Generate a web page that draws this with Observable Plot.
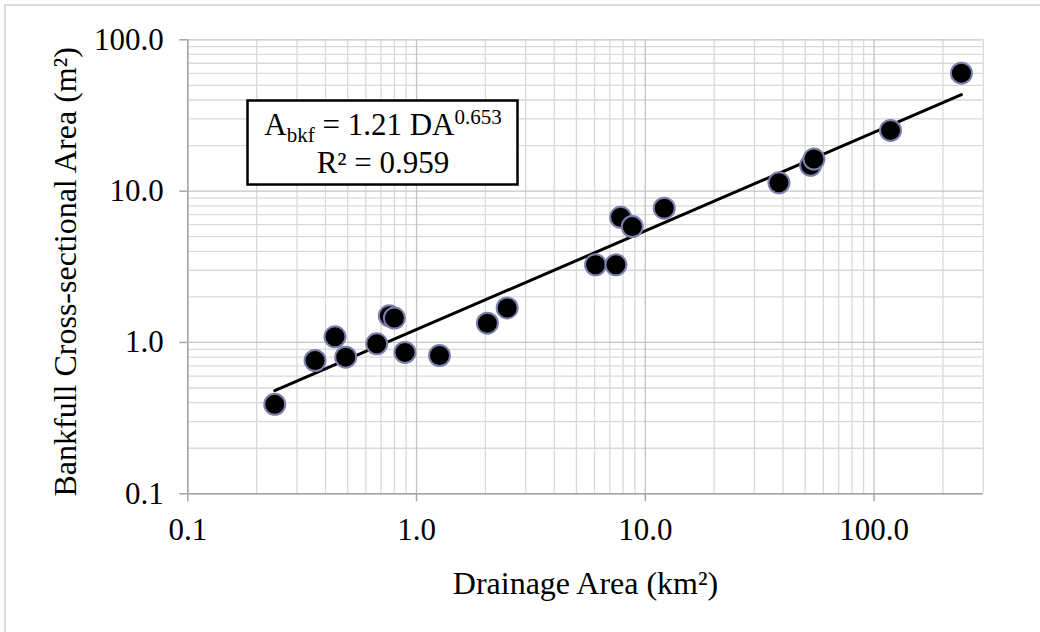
<!DOCTYPE html>
<html>
<head>
<meta charset="utf-8">
<script src="https://cdn.jsdelivr.net/npm/d3@7"></script>
<script src="https://cdn.jsdelivr.net/npm/@observablehq/plot@0.6"></script>
<style>
  html, body { margin: 0; padding: 0; background: #fff; }
  #chart { position: relative; width: 1040px; height: 632px; }
  svg { display: block; }
</style>
</head>
<body>
<div id="chart"></div>
<script>
// Drainage area (km²) and bankfull cross-sectional area (m²)
const drainageArea = [0.24, 0.36, 0.44, 0.49, 0.67, 0.76, 0.80, 0.89, 1.26, 2.04, 2.49,
                      6.06, 7.44, 7.80, 8.77, 12.1, 38.4, 52.8, 54.6, 118, 241];
const bankfullArea = [0.39, 0.76, 1.09, 0.80, 0.98, 1.50, 1.45, 0.86, 0.82, 1.34, 1.69,
                      3.26, 3.26, 6.72, 5.83, 7.71, 11.35, 14.8, 16.3, 25.2, 60.2];

// Power trend line endpoints (A = 1.21 DA^0.653)
const trendX = [0.24, 241];
const trendY = [0.48, 43.5];

// Axis ticks and labels
const xTicks = [0.1, 1, 10, 100];
const xTickLabels = ["0.1", "1.0", "10.0", "100.0"];
const yTicks = [0.1, 1, 10, 100];
const yTickLabels = ["0.1", "1.0", "10.0", "100.0"];
const xMinorGrid = [0.2,0.3,0.4,0.5,0.6,0.7,0.8,0.9, 2,3,4,5,6,7,8,9, 20,30,40,50,60,70,80,90, 200, 300];
const yMinorGrid = [0.2,0.3,0.4,0.5,0.6,0.7,0.8,0.9, 2,3,4,5,6,7,8,9, 20,30,40,50,60,70,80,90];

const xTitle = "Drainage Area (km²)";
const yTitle = "Bankfull Cross-sectional Area (m²)";

const points = drainageArea.map((d, i) => ({x: d, y: bankfullArea[i]}));
const trend = trendX.map((d, i) => ({x: d, y: trendY[i]}));

const font = "'Liberation Serif', 'Times New Roman', serif";

const plot = Plot.plot({
  width: 1040,
  height: 632,
  marginLeft: 187.3,
  marginRight: 57.3,
  marginTop: 39.3,
  marginBottom: 138.7,
  style: {fontFamily: font, fontSize: "31px", color: "#000", background: "#fff", overflow: "visible"},
  x: {type: "log", domain: [0.1, 300]},
  y: {type: "log", domain: [0.1, 100]},
  marks: [
    Plot.ruleX(xMinorGrid, {stroke: "#d9d9d9", strokeWidth: 1.3}),
    Plot.ruleY(yMinorGrid, {stroke: "#d9d9d9", strokeWidth: 1.3}),
    Plot.ruleX(xTicks, {stroke: "#c4c4c4", strokeWidth: 1.3}),
    Plot.ruleY(yTicks, {stroke: "#c4c4c4", strokeWidth: 1.3}),
    Plot.ruleX([0.1], {stroke: "#a6a6a6", strokeWidth: 1.5}),
    Plot.ruleY([0.1], {stroke: "#a6a6a6", strokeWidth: 1.5}),
    Plot.axisX(xTicks, {
      tickFormat: d => xTickLabels[xTicks.indexOf(d)], tickSize: 8, tickPadding: 16,
      stroke: "#a6a6a6", strokeWidth: 1.5, fill: "#000", fontSize: 31, label: null
    }),
    Plot.axisY(yTicks, {
      tickFormat: d => yTickLabels[yTicks.indexOf(d)], tickSize: 8, tickPadding: 16,
      stroke: "#a6a6a6", strokeWidth: 1.5, fill: "#000", fontSize: 31, label: null
    }),
    Plot.text([xTitle], {frameAnchor: "bottom", textAnchor: "middle", dy: 90, fontSize: 32, fill: "#000", lineAnchor: "middle"}),
    Plot.text([yTitle], {frameAnchor: "left", textAnchor: "middle", dx: -122, dy: 5, rotate: -90, fontSize: 32, fill: "#000", lineAnchor: "middle"}),
    Plot.line(trend, {x: "x", y: "y", stroke: "#000", strokeWidth: 3}),
    Plot.dot(points, {x: "x", y: "y", r: 10.5, fill: "#000", stroke: "#7f7fae", strokeWidth: 2})
  ]
});

document.getElementById("chart").appendChild(plot);

// Equation annotation box
const svg = d3.select(plot);
const g = svg.append("g").attr("font-family", font).attr("fill", "#000");
g.append("rect")
  .attr("x", 247.5).attr("y", 100.5).attr("width", 270).attr("height", 84)
  .attr("fill", "#fff").attr("stroke", "#000").attr("stroke-width", 2.5);
const t1 = g.append("text").attr("x", 383).attr("y", 135).attr("text-anchor", "middle").attr("font-size", 31);
t1.append("tspan").text("A");
t1.append("tspan").attr("font-size", 21).attr("dy", 7).text("bkf");
t1.append("tspan").attr("dy", -7).text(" = 1.21 DA");
t1.append("tspan").attr("font-size", 21).attr("dy", -11).text("0.653");
g.append("text").attr("x", 383).attr("y", 173).attr("text-anchor", "middle").attr("font-size", 31)
  .text("R² = 0.959");

// Chart-area frame (left and top edges visible)
svg.append("path").attr("d", "M5,632V5H1040").attr("fill", "none").attr("stroke", "#d0d0d0").attr("stroke-width", 1.5);
</script>
</body>
</html>
